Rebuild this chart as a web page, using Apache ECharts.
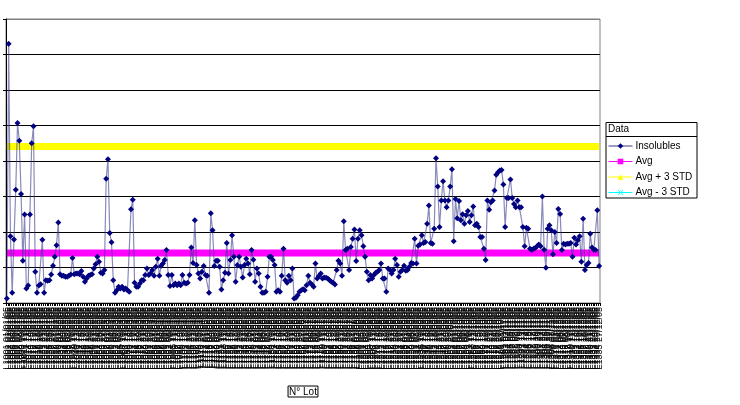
<!DOCTYPE html>
<html><head><meta charset="utf-8">
<script src="https://cdn.jsdelivr.net/npm/echarts@6/dist/echarts.min.js"></script>
<style>html,body{margin:0;padding:0;background:#fff}#c{width:740px;height:405px}</style>
</head><body><div id="c"></div>
<script>
// Insolubles per lot (grid units)
const insolubles = [
0.13,7.3,1.88,0.29,1.79,3.19,5.07,4.57,3.07,1.19,2.49,0.41,0.49,2.49,4.50,4.98,0.88,0.29,0.49,0.53,
1.78,0.29,0.64,0.63,0.64,0.80,1.05,1.30,1.63,2.27,0.81,0.77,0.77,0.74,0.74,0.77,0.80,1.27,0.81,0.83,
0.83,0.81,0.90,0.74,0.60,0.69,0.77,0.79,0.81,0.97,1.09,1.30,1.16,0.85,0.83,0.93,3.50,4.05,1.97,1.71,
0.64,0.29,0.36,0.46,0.41,0.46,0.38,0.41,0.36,0.32,2.64,2.91,0.57,0.46,0.46,0.55,0.64,0.64,0.79,0.97,
0.79,0.83,0.93,0.77,1.02,1.25,0.77,1.05,1.11,1.21,1.49,0.79,0.48,0.79,0.50,0.55,0.50,0.55,0.50,0.79,
0.57,0.55,0.57,0.79,1.56,1.13,2.33,
1.07,0.83,0.69,0.88,1.04,0.79,0.77,0.29,2.53,2.05,1.04,1.19,1.19,1.02,0.38,0.64,0.85,1.69,0.83,1.21,
1.91,1.30,0.60,1.07,1.30,1.02,0.72,1.07,1.25,1.11,0.81,1.49,1.22,0.60,0.97,0.83,0.46,0.29,0.29,0.32,
0.74,1.30,1.30,1.21,1.07,0.32,0.36,0.32,0.77,1.53,0.64,0.57,0.77,0.64,0.97,0.13,0.15,0.22,0.32,0.36,
0.39,0.36,0.50,0.77,0.57,0.52,0.46,1.11,0.69,0.76,0.83,0.69,0.72,0.71,0.69,0.64,0.60,0.57,0.52,0.93,
1.19,1.11,0.77,2.30,1.49,1.53,0.93,1.58,1.81,2.07,1.18,1.81,2.05,1.91,1.60,1.30,0.88,0.64,0.79,0.69,
0.79,0.85,0.88,0.93,1.11,0.69,0.69,0.32,0.97,0.94,0.83,0.93,1.25,
1.07,0.74,0.88,0.93,1.05,0.91,0.93,1.02,1.13,1.11,1.81,1.11,1.61,1.65,1.91,1.69,1.72,2.23,2.75,1.69,
1.67,2.09,4.08,3.28,2.14,2.89,3.43,2.89,2.70,2.89,3.28,3.77,1.74,2.93,2.39,2.87,2.33,2.50,2.23,2.47,
2.59,2.28,2.47,2.72,2.19,2.23,2.14,1.86,1.86,1.53,1.21,2.89,2.63,2.84,2.89,3.17,3.61,3.68,3.73,3.75,
3.34,2.14,2.96,2.96,3.48,2.96,2.79,2.70,2.89,2.70,2.70,2.14,1.60,2.12,2.09,1.53,1.50,1.53,1.55,1.60,
1.65,1.60,3.00,1.50,0.99,2.09,2.19,2.05,1.37,2.00,1.69,2.65,2.51,1.49,1.67,1.65,1.67,1.67,1.69,1.30,
1.84,1.65,1.77,1.88,1.16,2.37,0.93,1.07,1.13,1.95,1.56,1.50,1.49,2.61,1.04
];
const avgValue = 1.41;
const stdValue = 1.0;
const seriesNames = ['Insolubles','Avg','Avg + 3 STD','Avg - 3 STD'];
const yTicks = [0,1,2,3,4,5,6,7,8];
// lot numbers (unreadable in the picture, placeholders)
const lots = insolubles.map((_, i) => 'L' + String(1001 + i) + ' ' + String(i % 28 + 1).padStart(2,'0') + '/' + String(Math.floor(i / 28) + 1).padStart(2,'0') + '/05');

const n = insolubles.length;
const avgLine = new Array(n).fill(avgValue);
const uclLine = new Array(n).fill(+(avgValue + 3*stdValue).toFixed(2));
const lclLine = new Array(n).fill(+(avgValue - 3*stdValue).toFixed(2));

const FONT = 'Liberation Sans, Arial, sans-serif';
const chart = echarts.init(document.getElementById('c'), null, {renderer:'canvas'});
const splitColors = yTicks.map((t, i) => i === yTicks.length - 1 ? '#808080' : '#000');
const xPath = 'path://M0,1L1,0L5,4L9,0L10,1L6,5L10,9L9,10L5,6L1,10L0,9L4,5Z';

chart.setOption({
  animation: false,
  textStyle: {fontFamily: FONT},
  grid: {left: 6, right: 140, top: 19, bottom: 102, show: true, borderColor: '#808080', borderWidth: 1, containLabel: false},
  xAxis: {
    type: 'category', data: lots, boundaryGap: true,
    name: 'N° Lot', nameLocation: 'middle', nameGap: 83,
    nameTextStyle: {fontFamily: FONT, fontSize: 10, color: '#000', borderColor: '#000', borderWidth: 1, padding: [1, 1, 0, 1]},
    axisLine: {lineStyle: {color: '#000', width: 1}},
    axisTick: {show: true, interval: 0, length: 3, lineStyle: {color: '#000'}},
    axisLabel: {interval: 0, rotate: 90, fontSize: 9, color: '#000', margin: 4, fontFamily: FONT},
    splitLine: {show: false}
  },
  yAxis: {
    type: 'value', min: 0, max: 8, interval: 1,
    axisLine: {show: true, lineStyle: {color: '#000'}},
    axisTick: {show: true, length: 3, lineStyle: {color: '#000'}},
    axisLabel: {show: false},
    splitLine: {show: true, lineStyle: {color: splitColors, width: 1}}
  },
  legend: {
    orient: 'vertical', left: 608, top: 140, padding: 0,
    itemWidth: 24, itemHeight: 7, itemGap: 3.5,
    textStyle: {fontFamily: FONT, fontSize: 10, color: '#000', lineHeight: 12, padding: [0,0,0,-2]},
    lineStyle: {width: 1, opacity: 1},
    data: seriesNames
  },
  graphic: [
    {type: 'rect', shape: {x: 606, y: 122.5, width: 91, height: 75.5}, style: {fill: 'none', stroke: '#000', lineWidth: 1}, z: 100},
    {type: 'line', shape: {x1: 606, y1: 136.5, x2: 697, y2: 136.5}, style: {stroke: '#000', lineWidth: 1}, z: 100},
    {type: 'text', left: 608, top: 124, style: {text: 'Data', font: '10px ' + FONT, fill: '#000'}, z: 100}
  ],
  series: [
    {name: seriesNames[0], type: 'line', data: insolubles, symbol: 'diamond', symbolSize: 6, z: 5,
     itemStyle: {color: '#000080'}, lineStyle: {color: '#3a3a90', width: 1.2, opacity: 0.6}},
    {name: seriesNames[1], type: 'line', data: avgLine, symbol: 'rect', symbolSize: 6, showSymbol: false, z: 3,
     itemStyle: {color: '#ff00ff'}, lineStyle: {color: '#ff00ff', width: 7}},
    {name: seriesNames[2], type: 'line', data: uclLine, symbol: 'triangle', symbolSize: 7, showSymbol: false, z: 3,
     itemStyle: {color: '#ffff00'}, lineStyle: {color: '#ffff00', width: 7}},
    {name: seriesNames[3], type: 'line', data: lclLine, symbol: xPath, symbolSize: 7, showSymbol: false, z: 3,
     itemStyle: {color: '#00ffff'}, lineStyle: {color: '#00ffff', width: 7}}
  ]
});
</script></body></html>
